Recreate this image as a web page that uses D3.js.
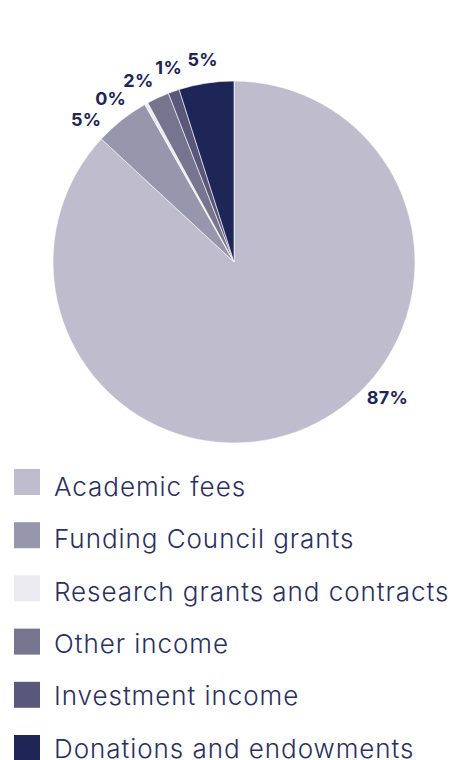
<!DOCTYPE html>
<html>
<head>
<meta charset="utf-8">
<script src="https://cdn.jsdelivr.net/npm/d3@7"></script>
<style>
  html, body { margin: 0; padding: 0; background: #fff; }
  svg { display: block; }
</style>
</head>
<body>
<svg id="chart" width="452" height="760"></svg>
<script>
// income split (percent)
const categories = ["Academic fees", "Funding Council grants", "Research grants and contracts",
  "Other income", "Investment income", "Donations and endowments"];
const shares = [86.9, 4.9, 0.3, 2.0, 1.0, 4.9];
const shareLabels = ["87%", "5%", "0%", "2%", "1%", "5%"];
const colors = ["#bfbccd", "#9896ad", "#ebeaf0", "#77748f", "#5a587a", "#1e2557"];

const CX = 234, CY = 262, R = 181;
const LABEL_R = 205;
const INK = "#1e2557";

const svg = d3.select("#chart");
const data = categories.map((c, i) => ({ category: c, value: shares[i], label: shareLabels[i], color: colors[i] }));

const pie = d3.pie().sort(null).value(d => d.value);
const arcs = pie(data);
const arc = d3.arc().innerRadius(0).outerRadius(R);

const g = svg.append("g").attr("transform", `translate(${CX},${CY})`);

g.selectAll("path")
  .data(arcs)
  .join("path")
    .attr("d", arc)
    .attr("fill", d => d.data.color)
    .attr("stroke", "#fff")
    .attr("stroke-width", 0.6);

// label angles: small slices near the top get pushed apart (counter-clockwise)
const MIN_GAP = 9.2 * Math.PI / 180;
const mids = arcs.map(a => (a.startAngle + a.endAngle) / 2 - 2 * Math.PI);
const angles = mids.slice();
for (let i = arcs.length - 2; i >= 1; i--) {
  angles[i] = Math.min(mids[i] + 0.015, angles[i + 1] - MIN_GAP);
}
const labelPos = arcs.map((a, i) => {
  if (i === 0) {
    // big slice: keep the label inside the plot height, slide it along the circle
    const mid = (a.startAngle + a.endAngle) / 2;
    const dy = Math.min(-Math.cos(mid) * LABEL_R, 136);
    const dx = Math.sqrt(LABEL_R * LABEL_R - dy * dy);
    return [dx, dy];
  }
  return [Math.sin(angles[i]) * LABEL_R, -Math.cos(angles[i]) * LABEL_R];
});

g.selectAll("text.pct")
  .data(arcs)
  .join("text")
    .attr("class", "pct")
    .attr("x", (d, i) => labelPos[i][0])
    .attr("y", (d, i) => labelPos[i][1])
    .attr("dy", "0.35em")
    .attr("text-anchor", "middle")
    .attr("font-family", "Inter, 'Open Sans', sans-serif")
    .attr("font-weight", 700)
    .attr("font-size", 18)
    .attr("letter-spacing", 0.3)
    .attr("fill", INK)
    .text(d => d.data.label);

// legend: swatches and texts sit on slightly different row pitches
const legend = svg.append("g").attr("transform", "translate(14,469)");
const swatchRow = d3.scaleLinear().domain([0, 1]).range([0, 53.2]);
const textRow = d3.scaleLinear().domain([0, 1]).range([26.7, 26.7 + 52.4]);

legend.selectAll("rect")
  .data(data)
  .join("rect")
    .attr("y", (d, i) => swatchRow(i))
    .attr("width", 26)
    .attr("height", 26)
    .attr("fill", d => d.color);

legend.selectAll("text")
  .data(data)
  .join("text")
    .attr("x", 40)
    .attr("y", (d, i) => textRow(i))
    .attr("font-family", "Inter, 'Open Sans', sans-serif")
    .attr("font-weight", 300)
    .attr("font-size", 26)
    .attr("letter-spacing", 0.95)
    .attr("fill", "#2b2f5e")
    .text(d => d.category);
</script>
</body>
</html>
